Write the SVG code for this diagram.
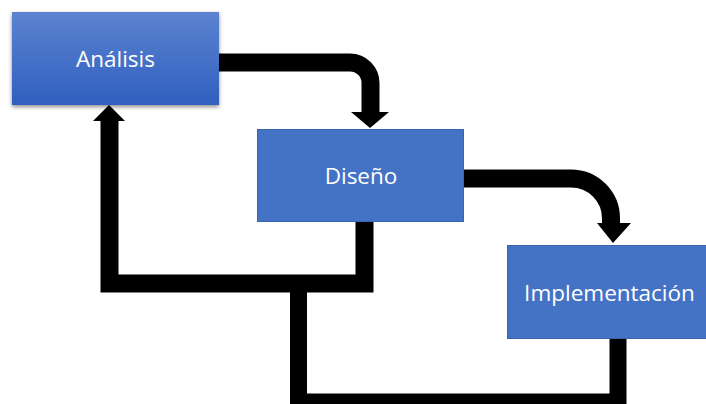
<svg xmlns="http://www.w3.org/2000/svg" width="706" height="404" viewBox="0 0 706 404">
<defs>
<linearGradient id="g1" x1="0" y1="0" x2="0" y2="1">
<stop offset="0" stop-color="#5c83d0"/>
<stop offset="1" stop-color="#2f5fbf"/>
</linearGradient>
<filter id="sh" x="-10%" y="-10%" width="120%" height="130%">
<feGaussianBlur in="SourceAlpha" stdDeviation="2"/>
<feOffset dx="0" dy="2" result="b"/>
<feComponentTransfer><feFuncA type="linear" slope="0.45"/></feComponentTransfer>
<feMerge><feMergeNode/><feMergeNode in="SourceGraphic"/></feMerge>
</filter>
</defs>
<style>
.box{fill:#4472c4;stroke:#3a63ad;stroke-width:1}
.lbl{font-family:"Open Sans","Liberation Sans",sans-serif;font-size:22.5px;fill:#ffffff;text-anchor:middle}
.ln{fill:none;stroke:#000;stroke-width:18;stroke-linejoin:miter}
.hd{fill:#000}
</style>
<g id="connectors">
<path class="ln" d="M219 62.5 H350 A20.5 20.5 0 0 1 370.5 83 V113"/>
<polygon class="hd" points="351,112 389,112 370,128"/>
<path class="ln" d="M464 178.5 H571 A40 40 0 0 1 611 218.5 V224"/>
<polygon class="hd" points="597,223 631,223 613,243"/>
<path class="ln" d="M364.5 222 V283.5 H109.5 V120"/>
<polygon class="hd" points="93,121 125,121 109,105"/>
<path class="ln" style="stroke-width:17" d="M618 339 V402 H298.5 V283.5"/>
</g>
<g id="analisis">
<rect x="12" y="12" width="207" height="93" fill="url(#g1)" filter="url(#sh)"/>
<text class="lbl" x="115.5" y="67">Análisis</text>
</g>
<g id="diseno">
<rect class="box" x="257.5" y="129.5" width="206" height="92"/>
<text class="lbl" x="361" y="183.5">Diseño</text>
</g>
<g id="implementacion">
<rect class="box" x="507.5" y="245.5" width="205" height="93"/>
<text class="lbl" x="609.5" y="301">Implementación</text>
</g>
</svg>
